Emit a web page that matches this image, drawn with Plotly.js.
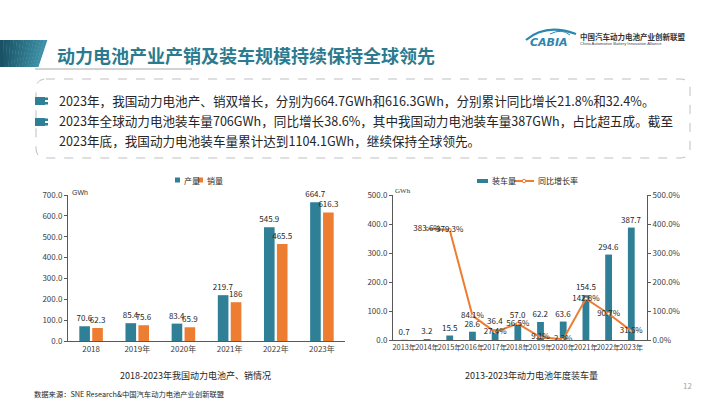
<!DOCTYPE html>
<html>
<head>
<meta charset="utf-8">
<script src="https://cdn.plot.ly/plotly-3.0.1.min.js"></script>
<style>
html,body{margin:0;padding:0;background:#fff;}
#chart{width:720px;height:405px;}
</style>
</head>
<body>
<div id="chart"></div>
<script>
// ---- data ----
const years1 = ['2018','2019年','2020年','2021年','2022年','2023年'];
const production = [70.6, 85.4, 83.4, 219.7, 545.9, 664.7];
const sales = [62.3, 75.6, 65.9, 186, 465.5, 616.3];

const years2 = ['2013年','2014年','2015年','2016年','2017年','2018年','2019年','2020年','2021年','2022年','2023年'];
const installed = [0.7, 3.2, 15.5, 28.6, 36.4, 57.0, 62.2, 63.6, 154.5, 294.6, 387.7];
const growthYears = ['2014年','2015年','2016年','2017年','2018年','2019年','2020年','2021年','2022年','2023年'];
const growth = [383.6, 379.3, 84.1, 27.4, 56.5, 9.1, 2.3, 142.8, 90.7, 31.6];

const leftTicks = [0,100,200,300,400,500,600,700];
const seriesNames = ['产量', '销量', '装车量', '同比增长率'];

const titleText = '动力电池产业产销及装车规模持续保持全球领先';
const bullet1 = '2023年，我国动力电池产、销双增长，分别为664.7GWh和616.3GWh，分别累计同比增长21.8%和32.4%。';
const bullet2a = '2023年全球动力电池装车量706GWh，同比增长38.6%，其中我国动力电池装车量387GWh，占比超五成。截至';
const bullet2b = '2023年底，我国动力电池装车量累计达到1104.1GWh，继续保持全球领先。';
const caption1 = '2018-2023年我国动力电池产、销情况';
const caption2 = '2013-2023年动力电池年度装车量';
const sourceText = '数据来源：SNE Research&中国汽车动力电池产业创新联盟';

// ---- helpers ----
const W = 720, H = 405;
const px = x => x / W;
const py = y => 1 - y / H;
const FONT = '"Noto Sans CJK SC", "Noto Sans", sans-serif';
const TEAL = '#2f7f96';
const ORANGE = '#ed7d31';
const AXC = '#595959';

function pathPx(cmds) {
  return cmds.map(c => {
    if (c[0] === 'Z') return 'Z';
    if (c[0] === 'Q') return 'Q' + px(c[1]) + ',' + py(c[2]) + ' ' + px(c[3]) + ',' + py(c[4]);
    return c[0] + px(c[1]) + ',' + py(c[2]);
  }).join(' ');
}
function rectPx(x0, y0, x1, y1, color) {
  return {type:'rect', xref:'paper', yref:'paper', x0:px(x0), x1:px(x1), y0:py(y0), y1:py(y1), fillcolor:color, line:{width:0}};
}

const shapes = [];
const N = 14;
function mix(a, b, t) {
  const pa = [parseInt(a.slice(1,3),16), parseInt(a.slice(3,5),16), parseInt(a.slice(5,7),16)];
  const pb = [parseInt(b.slice(1,3),16), parseInt(b.slice(3,5),16), parseInt(b.slice(5,7),16)];
  return 'rgb(' + pa.map((v,i)=>Math.round(v+(pb[i]-v)*t)).join(',') + ')';
}
for (let i = 0; i < N; i++) {
  const t0 = i / N, t1 = (i + 1) / N;
  shapes.push({type:'path', xref:'paper', yref:'paper', line:{width:0},
    fillcolor: mix('#184f63', '#3f93a8', t0 + 0.5/N),
    path: pathPx([['M', t0*47, 40], ['L', t1*47 + 0.4, 40], ['L', t1*38 + 0.4, 67], ['L', t0*38, 67], ['Z']])});
}
shapes.push({type:'line', xref:'paper', yref:'paper', x0:px(35), x1:px(192), y0:py(69), y1:py(69), line:{color:'#a6a6a6', width:1}});
const bx0 = 36, bx1 = 690, by0 = 79, by1 = 158, r = 10;
shapes.push({type:'path', xref:'paper', yref:'paper', line:{color:'#bfbfbf', width:1, dash:'dash'},
  path: pathPx([['M', bx0 + r, by0], ['L', bx1 - r, by0], ['Q', bx1, by0, bx1, by0 + r], ['L', bx1, by1 - r],
    ['Q', bx1, by1, bx1 - r, by1], ['L', bx0 + r, by1], ['Q', bx0, by1, bx0, by1 - r], ['L', bx0, by0 + r],
    ['Q', bx0, by0, bx0 + r, by0], ['Z']])});
[97, 118].forEach(y => {
  shapes.push(rectPx(35, y, 45, y + 8, TEAL));
  shapes.push(rectPx(45, y + 0.5, 48, y + 3, TEAL));
  shapes.push(rectPx(45, y + 5, 48, y + 7.5, TEAL));
});
// logo swoosh
shapes.push({type:'path', xref:'paper', yref:'paper', line:{color:'#2b86b0', width:2.2},
  path: pathPx([['M', 526, 40], ['Q', 546, 23, 576, 34]])});
shapes.push({type:'path', xref:'paper', yref:'paper', line:{color:'#2b86b0', width:1},
  path: pathPx([['M', 550, 34], ['Q', 562, 28, 570, 35]])});

// manual legends
shapes.push(rectPx(175, 177.5, 180, 182.5, TEAL));
shapes.push(rectPx(198, 177.5, 203, 182.5, ORANGE));
shapes.push(rectPx(477, 179, 488, 183, TEAL));
shapes.push({type:'line', xref:'paper', yref:'paper', x0:px(514), x1:px(534), y0:py(181), y1:py(181), line:{color:ORANGE, width:2}});
shapes.push({type:'circle', xref:'paper', yref:'paper', x0:px(522.3), x1:px(525.7), y0:py(179.3), y1:py(182.7), fillcolor:'#fff', line:{color:ORANGE, width:1}});

function ann(text, x, y, xanchor, font) {
  return {text: text, x: px(x), y: py(y), xref:'paper', yref:'paper', xanchor: xanchor, yanchor:'middle',
          showarrow:false, font: font};
}
const legFont = {family:FONT, size:8, color:'#262626'};
const annotations = [
  ann(titleText, 55, 55, 'left', {family:FONT, size:18, color:'#2b7b90', weight:'bold'}),
  ann('<i><b>CABIA</b></i>', 528, 42, 'left', {family:'"DejaVu Sans", sans-serif', size:11, color:'#2b86b0'}),
  ann('<b>中国汽车动力电池产业创新联盟</b>', 578, 36, 'left', {family:FONT, size:7.5, color:'#333'}),
  ann('China Automotive Battery Innovation Alliance', 578, 43.5, 'left', {family:'"Liberation Sans", sans-serif', size:4.1, color:'#444'}),
  ann(bullet1, 57, 101, 'left', {family:FONT, size:12.6, color:'#262626'}),
  ann(bullet2a, 57, 121, 'left', {family:FONT, size:12.6, color:'#262626'}),
  ann(bullet2b, 57, 141, 'left', {family:FONT, size:12.6, color:'#262626'}),
  ann('GWh', 70, 192, 'left', {family:'"Liberation Sans", sans-serif', size:7, color:'#333'}),
  ann('GWh', 393, 191, 'left', {family:'"Liberation Serif", serif', size:7, color:'#333'}),
  ann(seriesNames[0], 181.5, 180, 'left', legFont),
  ann(seriesNames[1], 204.5, 180, 'left', legFont),
  ann(seriesNames[2], 490, 181, 'left', legFont),
  ann(seriesNames[3], 536, 181, 'left', legFont),
  ann(caption1, 195, 375, 'center', {family:FONT, size:9, color:'#262626'}),
  ann(caption2, 531, 375, 'center', {family:FONT, size:9, color:'#262626'}),
  ann(sourceText, 32, 394, 'left', {family:FONT, size:7.3, color:'#262626'}),
  ann('12', 687, 385, 'center', {family:FONT, size:8, color:'#a6a6a6'})
];

const labelFont = {family:FONT, size:8, color:'#262626'};

const traces = [
  {type:'bar', name:seriesNames[0], x: years1, y: production, xaxis:'x', yaxis:'y',
   marker:{color:TEAL}, width:0.23, offset:-0.255,
   text: production.map(String), textposition:'outside', constraintext:'none', textfont:labelFont, cliponaxis:false,
   showlegend:false, hoverinfo:'skip'},
  {type:'bar', name:seriesNames[1], x: years1, y: sales, xaxis:'x', yaxis:'y',
   marker:{color:ORANGE}, width:0.23, offset:0.025,
   text: sales.map(String), textposition:'outside', constraintext:'none', textfont:labelFont, cliponaxis:false,
   showlegend:false, hoverinfo:'skip'},
  {type:'bar', name:seriesNames[2], x: years2, y: installed, xaxis:'x2', yaxis:'y2',
   marker:{color:TEAL}, width:0.3,
   texttemplate:'%{y:.1f}', textposition:'outside', constraintext:'none', textfont:labelFont, cliponaxis:false,
   showlegend:false, hoverinfo:'skip'},
  {type:'scatter', mode:'lines+markers+text', name:seriesNames[3], x: growthYears, y: growth, xaxis:'x2', yaxis:'y3',
   line:{color:ORANGE, width:2}, marker:{size:3, color:'#fff', line:{color:ORANGE, width:1}},
   texttemplate:'%{y:.1f}%', textposition:'middle center', textfont:labelFont, cliponaxis:false,
   showlegend:false, hoverinfo:'skip'}
];

const tickFont = {family:FONT, size:8, color:'#404040'};

const layout = {
  width: W, height: H,
  margin:{l:0, r:0, t:0, b:0},
  paper_bgcolor:'#fff', plot_bgcolor:'rgba(0,0,0,0)',
  barmode:'overlay',
  showlegend:false,
  font:{family:FONT},
  xaxis:{domain:[px(68), px(345)], anchor:'y', type:'category', showline:true, linecolor:AXC, linewidth:1,
         ticks:'', tickfont:tickFont, tickangle:0, showgrid:false, zeroline:false, fixedrange:true},
  yaxis:{domain:[py(341), py(195)], anchor:'x', range:[0,700], tickvals:leftTicks, tickformat:'.1f',
         showline:true, linecolor:AXC, linewidth:1, ticks:'outside', ticklen:3, tickcolor:AXC,
         tickfont:tickFont, showgrid:false, zeroline:false, fixedrange:true},
  xaxis2:{domain:[px(393), px(647)], anchor:'y2', type:'category', showline:true, linecolor:AXC, linewidth:1,
          ticks:'', tickfont:{family:FONT, size:7.4, color:'#404040'}, tickangle:0, showgrid:false, zeroline:false, fixedrange:true},
  yaxis2:{domain:[py(340), py(195)], anchor:'x2', range:[0,500], dtick:100, tickformat:'.1f',
          showline:true, linecolor:AXC, linewidth:1, ticks:'outside', ticklen:3, tickcolor:AXC,
          tickfont:tickFont, showgrid:false, zeroline:false, fixedrange:true},
  yaxis3:{overlaying:'y2', anchor:'x2', side:'right', range:[0,500], dtick:100, tickformat:'.1f', ticksuffix:'%',
          showline:true, linecolor:AXC, linewidth:1, ticks:'outside', ticklen:3, tickcolor:AXC,
          tickfont:tickFont, showgrid:false, zeroline:false, fixedrange:true},
  shapes: shapes,
  annotations: annotations
};

Plotly.newPlot('chart', traces, layout, {staticPlot:true, displayModeBar:false});
</script>
</body>
</html>
